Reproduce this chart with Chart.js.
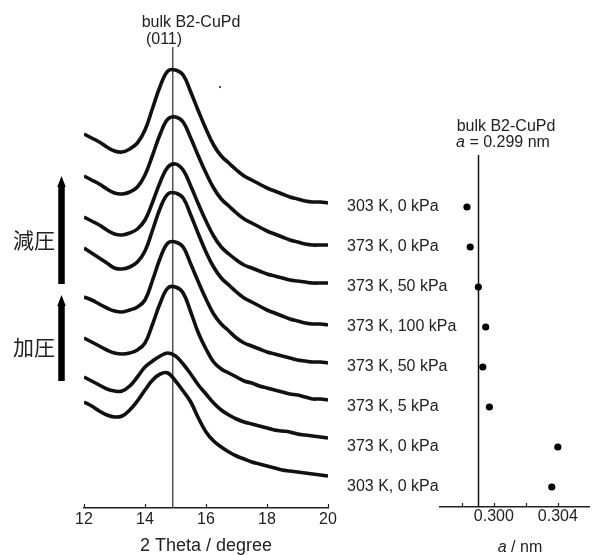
<!DOCTYPE html>
<html>
<head>
<meta charset="utf-8">
<script src="https://cdn.jsdelivr.net/npm/chart.js@4.4.0/dist/chart.umd.min.js"></script>
<style>
  html, body { margin: 0; padding: 0; background: #fff; }
  #wrap { position: relative; width: 593px; height: 555px; overflow: hidden; }
  #wrap canvas { position: absolute; top: 0; }
  #xrd { left: 0; }
  #lat { left: 340px; }
</style>
</head>
<body>
<div id="wrap">
  <canvas id="xrd" width="340" height="555"></canvas>
  <canvas id="lat" width="253" height="555"></canvas>
</div>
<script>
'use strict';

/* ── Data: XRD traces (intensity, a.u., offset per trace) ───────── */
const THETA = [12, 12.25, 12.5, 12.75, 13, 13.25, 13.5, 13.75, 14, 14.25, 14.5, 14.75,
               15, 15.25, 15.5, 15.75, 16, 16.25, 16.5, 16.75, 17, 17.25, 17.5, 17.75,
               18, 18.25, 18.5, 18.75, 19, 19.25, 19.5, 19.75, 20];

const XRD_1 = [374,370,366,361,357,356,359,365,378,400,422,437,438,433,416,397,379,363,352,345,338,332,328,324,320,317,314,311,309,307,306,306,305];
const XRD_2 = [332,328,324,319,315,314,316,321,333,353,374,389,391,386,370,352,335,320,309,302,295,289,285,281,277,274,271,268,266,264,263,263,263];
const XRD_3 = [291,287,283,278,274,273,275,279,288,306,326,341,344,338,322,304,287,272,261,254,248,243,240,237,234,232,230,228,227,226,225,225,225];
const XRD_4 = [260,255,250,245,240,239,241,246,257,278,300,314,315,310,293,274,256,241,230,223,216,210,206,202,198,195,192,189,187,185,184,184,183];
const XRD_5 = [211,208,204,200,197,196,198,201,208,228,250,265,266,261,244,226,209,194,184,177,170,165,162,159,156,154,152,150,148,147,146,146,145];
const XRD_6 = [170,166,162,158,155,154,155,158,165,184,205,220,221,215,196,175,159,146,139,135,131,127,125,122,120,118,116,114,113,111,109,109,108];
const XRD_7 = [131,127,123,119,117,117,122,131,141,147,152,155,152,144,134,123,114,105,98,93,89,86,84,82,80,78,77,76,74,73,72,71,70];
const XRD_8 = [106,102,97,93,91,92,98,107,118,128,134,135,127,117,106,90,76,67,61,56,52,49,46,44,42,40,38,37,36,35,34,33,32];

const REF_THETA   = 14.91;          // bulk B2-CuPd (011)
const THETA_TICKS = [12, 14, 16, 18, 20];
const SPECK       = [{ x: 16.46, y: 421 }];

/* ── Data: lattice constant per condition ───────────────────────── */
const ROW_LABELS = ['303 K, 0 kPa', '373 K, 0 kPa', '373 K, 50 kPa', '373 K, 100 kPa',
                    '373 K, 50 kPa', '373 K, 5 kPa', '373 K, 0 kPa', '303 K, 0 kPa'];
const LATTICE_A  = [0.29832, 0.29852, 0.29903, 0.29949, 0.29931, 0.29972, 0.30400, 0.30362];
const BULK_A     = 0.299;
const A_TICKS       = [0.298, 0.300, 0.302, 0.304];
const A_TICK_LABELS = ['', '0.300', '', '0.304'];

const FONT   = "'Liberation Sans', Arial, Helvetica, sans-serif";
const JFONT  = "'Noto Sans CJK JP', 'Noto Sans CJK SC', sans-serif";
const INK    = '#222';

/* ── Plugins ────────────────────────────────────────────────────── */
const inwardTicks = {
  id: 'inwardTicks',
  afterDraw(chart, args, opts) {
    const s = chart.scales.x, ctx = chart.ctx;
    ctx.save();
    ctx.strokeStyle = opts.color;
    ctx.lineWidth = opts.width;
    s.ticks.forEach(t => {
      const x = Math.round(s.getPixelForValue(t.value)) + 0.5;
      ctx.beginPath();
      ctx.moveTo(x, s.top);
      ctx.lineTo(x, s.top - opts.length);
      ctx.stroke();
    });
    ctx.restore();
  }
};

const notes = {
  id: 'notes',
  afterDraw(chart, args, opts) {
    const ctx = chart.ctx;
    ctx.save();
    ctx.fillStyle = opts.color;
    ctx.textBaseline = 'middle';
    (opts.items || []).forEach(it => {
      // each note may be made of parts (e.g. italic "a")
      const parts = it.parts || [{ t: it.text, f: it.font }];
      let w = 0;
      parts.forEach(p => { ctx.font = p.f; w += ctx.measureText(p.t).width; });
      let x = it.align === 'center' ? it.x - w / 2 : it.x;
      ctx.textAlign = 'left';
      parts.forEach(p => {
        ctx.font = p.f;
        ctx.fillText(p.t, x, it.y);
        x += ctx.measureText(p.t).width;
      });
    });
    ctx.restore();
  }
};

// row labels of the right panel: not clipped to the axis box
const rowLabels = {
  id: 'rowLabels',
  afterDraw(chart, args, opts) {
    const ctx = chart.ctx, ys = chart.scales.y;
    ctx.save();
    ctx.fillStyle = opts.color;
    ctx.font = opts.font;
    ctx.textAlign = 'left';
    ctx.textBaseline = 'middle';
    ROW_LABELS.forEach((lab, i) => ctx.fillText(lab, ys.left, ys.getPixelForValue(i)));
    ctx.restore();
  }
};

const arrows = {
  id: 'arrows',
  afterDraw(chart, args, opts) {
    const ctx = chart.ctx;
    ctx.save();
    ctx.fillStyle = '#000';
    (opts.items || []).forEach(a => {
      const h = a.w / 2;
      ctx.beginPath();
      ctx.moveTo(a.x - h, a.bottom);
      ctx.lineTo(a.x - h, a.tip + a.head);
      ctx.lineTo(a.x - h - 1, a.tip + a.head);
      ctx.lineTo(a.x, a.tip);
      ctx.lineTo(a.x + h + 1, a.tip + a.head);
      ctx.lineTo(a.x + h, a.tip + a.head);
      ctx.lineTo(a.x + h, a.bottom);
      ctx.closePath();
      ctx.fill();
    });
    ctx.restore();
  }
};

const bulkLine = {
  id: 'bulkLine',
  beforeDatasetsDraw(chart, args, opts) {
    const ctx = chart.ctx;
    const x = Math.round(chart.scales.x.getPixelForValue(opts.value)) + 0.5;
    ctx.save();
    ctx.strokeStyle = opts.color;
    ctx.lineWidth = opts.width;
    ctx.beginPath();
    ctx.moveTo(x, opts.top);
    ctx.lineTo(x, chart.chartArea.bottom);
    ctx.stroke();
    ctx.restore();
  }
};

/* ── Left panel: XRD traces ─────────────────────────────────────── */
const TRACES = [XRD_1, XRD_2, XRD_3, XRD_4, XRD_5, XRD_6, XRD_7, XRD_8];

const traceSets = TRACES.map(arr => ({
  data: arr.map((v, i) => ({ x: THETA[i], y: v })),
  borderColor: '#111',
  borderWidth: 3.6,
  pointRadius: 0,
  tension: 0.4,
  fill: false
}));

new Chart(document.getElementById('xrd'), {
  type: 'line',
  data: {
    datasets: [
      {
        data: [{ x: REF_THETA, y: 0 }, { x: REF_THETA, y: 461 }],
        borderColor: '#555', borderWidth: 1.5, pointRadius: 0, order: 10
      },
      ...traceSets,
      {
        data: SPECK, showLine: false, pointStyle: 'rect',
        pointRadius: 1.5, backgroundColor: '#555', borderWidth: 0
      }
    ]
  },
  options: {
    responsive: false,
    animation: false,
    devicePixelRatio: 1,
    layout: { padding: { left: 84, right: 12, top: 47, bottom: 0 } },
    plugins: {
      legend: { display: false },
      tooltip: { enabled: false },
      inwardTicks: { color: INK, width: 1.2, length: 4 },
      arrows: {
        items: [
          { x: 61.5, w: 6.5, tip: 176, head: 11, bottom: 284 },
          { x: 61.5, w: 6.5, tip: 295, head: 11, bottom: 381 }
        ]
      },
      notes: {
        color: INK,
        items: [
          { text: 'bulk B2-CuPd', font: '16px ' + FONT, x: 191, y: 23, align: 'center' },
          { text: '(011)', font: '16px ' + FONT, x: 164, y: 40, align: 'center' },
          { text: '減圧', font: '21px ' + JFONT, x: 13, y: 240 },
          { text: '加圧', font: '21px ' + JFONT, x: 13, y: 347 }
        ]
      }
    },
    scales: {
      x: {
        type: 'linear', min: 12, max: 20,
        afterBuildTicks: s => { s.ticks = THETA_TICKS.map(v => ({ value: v })); },
        afterFit: s => { s.height = 47; },
        grid: { display: false, drawTicks: false },
        border: { display: true, color: INK, width: 1.5 },
        ticks: { color: INK, font: { family: FONT, size: 16 }, padding: 2, maxRotation: 0, autoSkip: false },
        title: {
          display: true, text: '2 Theta / degree', color: INK,
          font: { family: FONT, size: 18, lineHeight: 1 }, padding: { top: 0, bottom: 0 }
        }
      },
      y: { display: false, min: 0, max: 461 }
    }
  },
  plugins: [inwardTicks, arrows, notes]
});

/* ── Right panel: lattice constant ──────────────────────────────── */
new Chart(document.getElementById('lat'), {
  type: 'scatter',
  data: {
    labels: ROW_LABELS,
    datasets: [{
      data: LATTICE_A.map((a, i) => ({ x: a, y: i })),
      pointRadius: 3.6,
      backgroundColor: '#000',
      borderWidth: 0
    }]
  },
  options: {
    responsive: false,
    animation: false,
    devicePixelRatio: 1,
    layout: { padding: { left: 7, right: 0, top: 187, bottom: 0 } },
    plugins: {
      legend: { display: false },
      tooltip: { enabled: false },
      inwardTicks: { color: INK, width: 1.2, length: 4 },
      bulkLine: { value: BULK_A, top: 155, color: '#111', width: 1.5 },
      rowLabels: { color: INK, font: '16px ' + FONT },
      notes: {
        color: INK,
        items: [
          { text: 'bulk B2-CuPd', font: '16px ' + FONT, x: 166, y: 127, align: 'center' },
          { parts: [{ t: 'a', f: 'italic 16px ' + FONT }, { t: ' = 0.299 nm', f: '16px ' + FONT }],
            x: 163, y: 143, align: 'center' },
          { parts: [{ t: 'a', f: 'italic 16px ' + FONT }, { t: ' / nm', f: '16px ' + FONT }],
            x: 180, y: 548, align: 'center' }
        ]
      }
    },
    scales: {
      x: {
        type: 'linear', min: 0.296633, max: 0.305948,
        afterBuildTicks: s => { s.ticks = A_TICKS.map(v => ({ value: v })); },
        afterFit: s => { s.height = 48; },
        grid: { display: false, drawTicks: false },
        border: { display: true, color: INK, width: 1.5 },
        ticks: {
          color: INK, font: { family: FONT, size: 16 }, padding: 0, maxRotation: 0, autoSkip: false,
          callback: (v, i) => A_TICK_LABELS[i]
        }
      },
      y: {
        type: 'category', offset: true,
        afterFit: s => { s.width = 93; },
        grid: { display: false, drawTicks: false },
        border: { display: false },
        ticks: { display: false }
      }
    }
  },
  plugins: [inwardTicks, bulkLine, rowLabels, notes]
});
</script>
</body>
</html>
